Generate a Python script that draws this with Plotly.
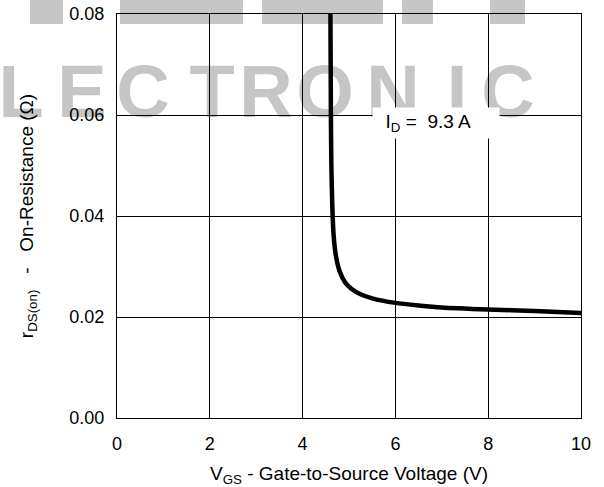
import plotly.graph_objects as go

# Data
vgs = [4.60, 4.605, 4.61, 4.62, 4.64, 4.67, 4.72, 4.80, 4.92, 5.05, 5.25, 5.5, 6.0, 6.5, 7.0, 8.0, 9.0, 10.0]
rds = [0.080, 0.070, 0.060, 0.050, 0.042, 0.036, 0.0320, 0.0290, 0.0268, 0.0256, 0.0245, 0.0237, 0.0228, 0.0223, 0.0219, 0.0215, 0.0212, 0.0208]

x_ticks = [0, 2, 4, 6, 8, 10]
y_ticks = [0.00, 0.02, 0.04, 0.06, 0.08]
y_tick_labels = ["0.00", "0.02", "0.04", "0.06", "0.08"]

wm_letters = ["L", "E", "C", "T", "R", "O", "N", "I", "C"]
wm_centers = [21, 82, 143, 212, 266, 325, 393, 457, 508]
wm_top_bars = [(30, 63), (120, 243), (262, 383), (402, 433), (490, 525)]

W, H = 604, 487
FONT = "Liberation Sans, Arial, Helvetica, sans-serif"
GRAY = "#c6c6c6"

fig = go.Figure()
fig.add_trace(go.Scatter(x=vgs, y=rds, mode="lines",
                         line=dict(color="black", width=4.5, shape="spline", smoothing=0.6),
                         hoverinfo="skip", showlegend=False))

shapes = []
# watermark top bars (paper coords from pixels)
for (a, b) in wm_top_bars:
    shapes.append(dict(type="rect", xref="paper", yref="paper", layer="below",
                       x0=(a - 117) / 464, x1=(b - 117) / 464,
                       y0=(418 - 24) / 404, y1=(418 + 10) / 404,
                       fillcolor=GRAY, line=dict(width=0)))
for ch, cx in zip(wm_letters, wm_centers):
    shapes.append(dict(type="rect", xref="paper", yref="paper", layer="below",
                       x0=(cx - 40 - 117) / 464, x1=(cx + 40 - 117) / 464,
                       y0=(418 - 112) / 404, y1=(418 - 56) / 404,
                       fillcolor="rgba(0,0,0,0)", line=dict(width=0),
                       label=dict(text="<b>" + ch + "</b>", textposition="middle center", padding=0,
                                  font=dict(family="Liberation Sans, Arial", size=74, color=GRAY))))
fig.update_layout(shapes=shapes)

fig.add_annotation(x=6.88, y=0.0584, xref="x", yref="y",
                   text="&nbsp;&nbsp;I<sub>D</sub> =  9.3 A", showarrow=False, align="left",
                   bgcolor="white", width=122, height=26, borderpad=2,
                   font=dict(family=FONT, size=19, color="black"))

fig.update_layout(
    width=W, height=H,
    margin=dict(l=117, r=23, t=14, b=69),
    paper_bgcolor="rgba(0,0,0,0)", plot_bgcolor="rgba(0,0,0,0)",
    font=dict(family=FONT, size=18, color="black"),
    xaxis=dict(range=[0, 10], tickvals=x_ticks, showgrid=True, gridcolor="black", gridwidth=1,
               zeroline=False, showline=True, linecolor="black", linewidth=1, mirror=True,
               automargin=False,
               ticks="", ticklabelstandoff=9, tickfont=dict(size=18),
               title=dict(text="V<sub>GS</sub> - Gate-to-Source Voltage (V)", standoff=18,
                          font=dict(size=19))),
    yaxis=dict(range=[0, 0.08], tickvals=y_ticks, ticktext=y_tick_labels, showgrid=True,
               gridcolor="black", gridwidth=1, zeroline=False, showline=True, linecolor="black",
               linewidth=1, mirror=True, ticks="", ticklabelstandoff=8, tickfont=dict(size=18),
               automargin=False,
               title=dict(text="r<sub>DS(on)</sub>   -   On-Resistance (Ω)", standoff=30,
                          font=dict(size=19))),
)

fig.write_html("out.html")
